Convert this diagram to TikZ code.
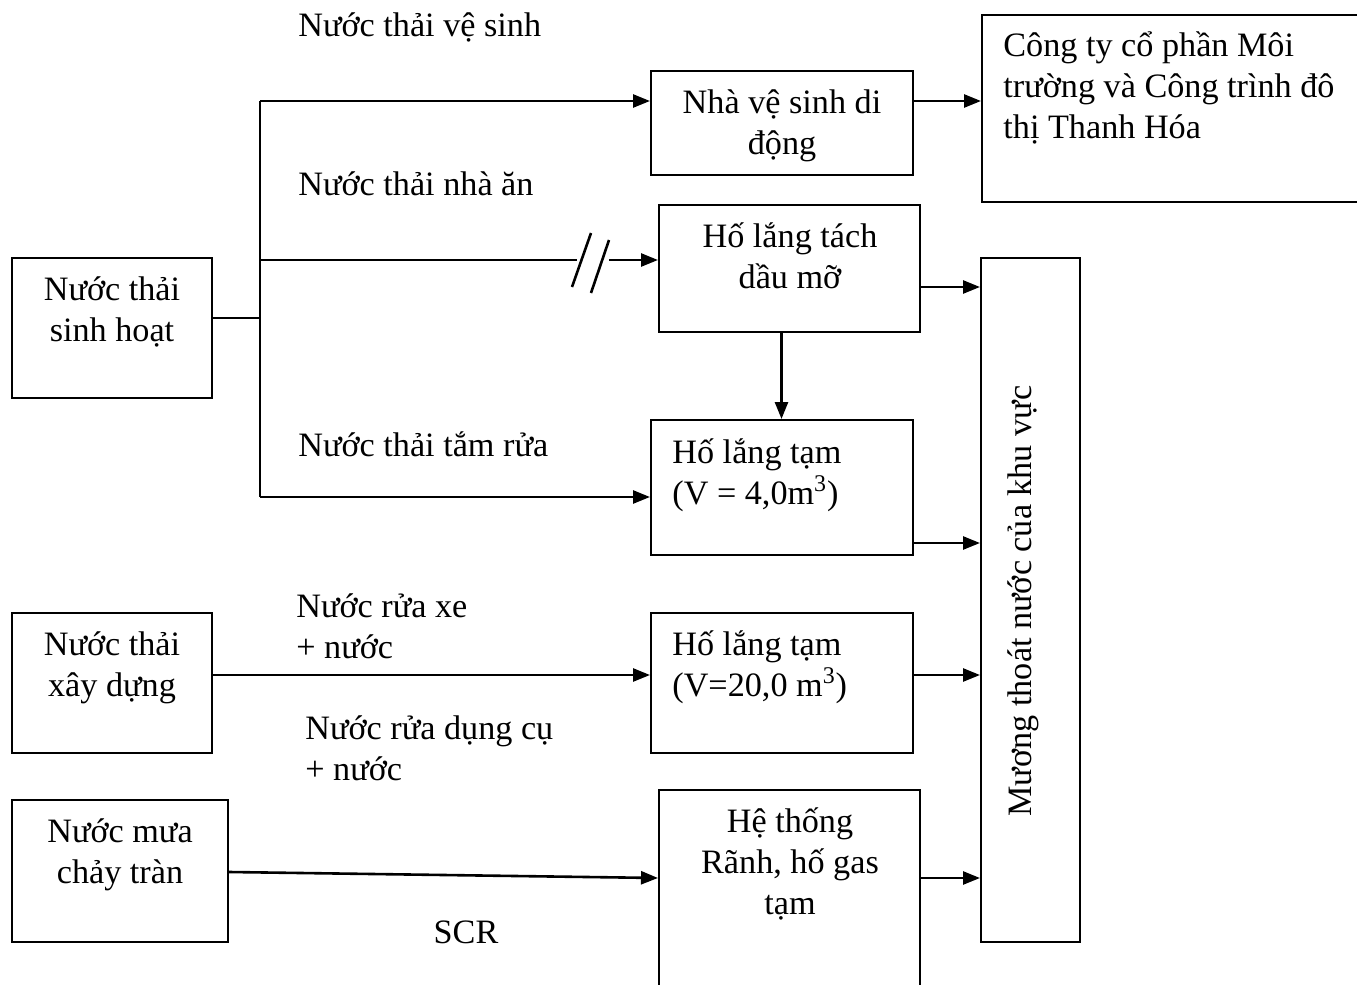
\documentclass[tikz,border=0pt]{standalone}
\usepackage{fontspec}
\setmainfont{Liberation Serif}
\usetikzlibrary{arrows.meta,fit,positioning}
\tikzset{
  blk/.style={draw, line width=1pt, inner sep=0pt},
  txt/.style={inner sep=0pt, align=center, font=\fontsize{17.1}{20.5}\selectfont},
  txtl/.style={txt, align=left},
  flow/.style={line width=1.3pt, -{Triangle[length=8.5pt,width=6.5pt]}},
  pipe/.style={line width=1.3pt},
}

\begin{document}
\begin{tikzpicture}[x=0.5pt,y=-0.5pt]
\useasboundingbox (0,0) rectangle (1357,985);
% sources
\node[blk, fit={(12,258) (212,398)}] (sh) {};
\node[blk, fit={(12,613) (212,753)}] (xd) {};
\node[blk, fit={(12,800) (228,942)}] (nm) {};
% treatment
\node[blk, fit={(651,71) (913,175)}] (vs) {};
\node[blk, fit={(982,15) (1380,202)}] (ct) {};
\node[blk, fit={(659,205) (920,332)}] (dm) {};
\node[blk, fit={(651,420) (913,555)}] (lt1) {};
\node[blk, fit={(651,613) (913,753)}] (lt2) {};
\node[blk, fit={(659,790) (920,1010)}] (ht) {};
\node[blk, fit={(981,258) (1080,942)}] (mu) {};

% box texts (anchored at the last line)
\node[txt, anchor=base] (sh-t) at (112,341) {Nước thải\\sinh hoạt};
\node[txt, anchor=base] (xd-t) at (112,696) {Nước thải\\xây dựng};
\node[txt, anchor=base] (nm-t) at (120,883) {Nước mưa\\chảy tràn};
\node[txt, anchor=base] (vs-t) at (782,154) {Nhà vệ sinh di\\động};
\node[txtl, anchor=base west] (ct-t) at (1003,138) {Công ty cổ phần Môi\\trường và Công trình đô\\thị Thanh Hóa};
\node[txt, anchor=base] (dm-t) at (790,288) {Hố lắng tách\\dầu mỡ};
\node[txtl, anchor=base west] (lt1-t) at (672,504) {Hố lắng tạm\\(V = 4,0m\textsuperscript{3})};
\node[txtl, anchor=base west] (lt2-t) at (672,696) {Hố lắng tạm\\(V=20,0 m\textsuperscript{3})};
\node[txt, anchor=base] (ht-t) at (790,914) {Hệ thống\\Rãnh, hố gas\\tạm};
\node[txt, rotate=90] (mu-t) at (1023,601) {Mương thoát nước của khu vực};

% flow labels
\node[txtl, anchor=base west] (l-vs) at (298,37) {Nước thải vệ sinh};
\node[txtl, anchor=base west] (l-na) at (298,195) {Nước thải nhà ăn};
\node[txtl, anchor=base west] (l-tr) at (298,456) {Nước thải tắm rửa};
\node[txtl, anchor=base west] (l-rx) at (296,658) {Nước rửa xe\\+ nước};
\node[txtl, anchor=base west] (l-dc) at (305,780) {Nước rửa dụng cụ\\+ nước};
\node[txt, anchor=base] (l-scr) at (466,943) {SCR};

% junctions
\coordinate (j0) at (260,318);
\coordinate (j1) at (260,101);
\coordinate (j2) at (260,260);
\coordinate (j3) at (260,497);
\coordinate (brk1) at (577,260);
\coordinate (brk2) at (609,260);

% sinh hoat branches
\draw[pipe] (sh.east |- j0) -- (j0);
\draw[pipe] (j1) -- (j3);
\draw[flow] (j1) -- (vs.west |- j1);
\draw[pipe] (j2) -- (brk1);
\draw[pipe] (572,287) -- (591,233);
\draw[pipe] (591,293) -- (609,240);
\draw[flow] (brk2) -- (dm.west |- brk2);
\draw[flow] (j3) -- (lt1.west |- j3);
\draw[flow] ([xshift=-4pt]dm.south) -- ([xshift=-4pt]dm.south |- lt1.north);

% other sources
\draw[flow] (xd.east |- 0,675) -- (lt2.west |- 0,675);
\draw[flow] (nm.east |- 0,872) -- (ht.west |- 0,878);

% to outlets
\draw[flow] (vs.east |- j1) -- (ct.west |- j1);
\draw[flow] (dm.east |- 0,287) -- (mu.west |- 0,287);
\draw[flow] (lt1.east |- 0,543) -- (mu.west |- 0,543);
\draw[flow] (lt2.east |- 0,675) -- (mu.west |- 0,675);
\draw[flow] (ht.east |- 0,878) -- (mu.west |- 0,878);
\end{tikzpicture}
\end{document}
